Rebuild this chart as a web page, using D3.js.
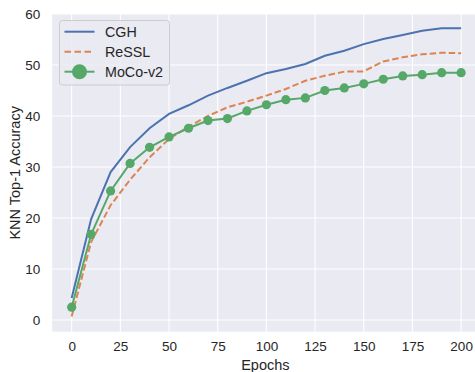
<!DOCTYPE html>
<head>
  <meta charset="utf-8">
  <style>
    body { margin: 0; background: #fff; }
    svg { display: block; }
    svg text { font-family: "Liberation Sans", Arial, sans-serif; fill: #262626; }
    svg .tick text { font-size: 13.5px; }
    svg .grid line { stroke: #fff; stroke-width: 1.1px; }
  </style>
</head>
<body>
<script src="https://d3js.org/d3.v7.min.js"></script>
<script>
  var epochs = [0, 10, 20, 30, 40, 50, 60, 70, 80, 90, 100, 110, 120, 130, 140, 150, 160, 170, 180, 190, 200];
  var cgh   = [4.3, 19.8, 29.0, 33.9, 37.6, 40.4, 42.1, 44.0, 45.5, 46.9, 48.4, 49.2, 50.2, 51.8, 52.8, 54.1, 55.1, 55.9, 56.7, 57.2, 57.2];
  var ressl = [0.7, 15.3, 22.5, 27.5, 31.9, 35.5, 37.9, 40.0, 41.7, 42.8, 44.0, 45.3, 46.9, 47.9, 48.7, 48.75, 50.7, 51.5, 52.1, 52.4, 52.3];
  var moco  = [2.5, 16.8, 25.3, 30.7, 33.85, 35.9, 37.6, 39.1, 39.5, 41.0, 42.2, 43.2, 43.55, 45.0, 45.5, 46.3, 47.2, 47.85, 48.1, 48.5, 48.5];
  var xTicks = [0, 25, 50, 75, 100, 125, 150, 175, 200];
  var yTicks = [0, 10, 20, 30, 40, 50, 60];
  var seriesNames = ["CGH", "ReSSL", "MoCo-v2"];

  var W = 475, H = 372;
  var pLeft = 52.2, pRight = 480.6, pTop = 14, pBottom = 331.7;

  var svg = d3.select("body").append("svg")
      .attr("width", W)
      .attr("height", H);

  var xScale = d3.scaleLinear().domain([-10, 210]).range([pLeft, pRight]);
  var yScale = d3.scaleLinear().domain([-2.3, 60]).range([pBottom, pTop]);

  // plot background
  svg.append("rect")
      .attr("x", pLeft).attr("y", pTop)
      .attr("width", pRight - pLeft).attr("height", pBottom - pTop)
      .attr("fill", "#eaeaf2");

  // grid
  var grid = svg.append("g").classed("grid", true);
  grid.selectAll("line.v").data(xTicks).enter().append("line")
      .attr("x1", d => xScale(d)).attr("x2", d => xScale(d))
      .attr("y1", pTop).attr("y2", pBottom);
  grid.selectAll("line.h").data(yTicks).enter().append("line")
      .attr("y1", d => yScale(d)).attr("y2", d => yScale(d))
      .attr("x1", pLeft).attr("x2", pRight);

  // axes (labels only, darkgrid style has no ticks/spines)
  var xAxis = d3.axisBottom(xScale).tickValues(xTicks).tickSize(0).tickPadding(10);
  svg.append("g")
      .attr("transform", "translate(0," + pBottom + ")")
      .call(xAxis)
      .call(g => g.select(".domain").remove());

  var yAxis = d3.axisLeft(yScale).tickValues(yTicks).tickSize(0).tickPadding(12);
  svg.append("g")
      .attr("transform", "translate(" + pLeft + ",0)")
      .call(yAxis)
      .call(g => g.select(".domain").remove());

  svg.append("text")
      .attr("x", (pLeft + pRight) / 2 - 1)
      .attr("y", 370)
      .attr("text-anchor", "middle")
      .style("font-size", "14.5px")
      .text("Epochs");

  svg.append("text")
      .attr("transform", "translate(20," + ((pTop + pBottom) / 2) + ") rotate(-90)")
      .attr("text-anchor", "middle")
      .style("font-size", "14.5px")
      .text("KNN Top-1 Accuracy");

  var colors = ["#4c72b0", "#dd8452", "#55a868"];
  var line = d3.line()
      .x(d => xScale(d[0]))
      .y(d => yScale(d[1]));

  var plot = svg.append("g");

  plot.append("path")
      .datum(d3.zip(epochs, cgh))
      .attr("d", line)
      .attr("fill", "none")
      .attr("stroke", colors[0])
      .attr("stroke-width", 2);

  plot.append("path")
      .datum(d3.zip(epochs, ressl))
      .attr("d", line)
      .attr("fill", "none")
      .attr("stroke", colors[1])
      .attr("stroke-width", 2)
      .attr("stroke-dasharray", "6.5,3");

  plot.append("path")
      .datum(d3.zip(epochs, moco))
      .attr("d", line)
      .attr("fill", "none")
      .attr("stroke", colors[2])
      .attr("stroke-width", 2);

  plot.selectAll("circle.moco")
    .data(d3.zip(epochs, moco))
    .enter().append("circle")
      .attr("cx", d => xScale(d[0]))
      .attr("cy", d => yScale(d[1]))
      .attr("r", 4.6)
      .attr("fill", colors[2]);

  // legend
  var lg = svg.append("g");
  lg.append("rect")
      .attr("x", 59.5).attr("y", 20.5)
      .attr("width", 110).attr("height", 64.5)
      .attr("rx", 3)
      .attr("fill", "#eaeaf2")
      .attr("fill-opacity", 0.85)
      .attr("stroke", "#cccccc");

  var rowY = [31.7, 51.7, 71.7];
  seriesNames.forEach(function (name, i) {
    var l = lg.append("line")
        .attr("x1", 64.5).attr("x2", 94.5)
        .attr("y1", rowY[i]).attr("y2", rowY[i])
        .attr("stroke", colors[i])
        .attr("stroke-width", 2);
    if (i === 1) l.attr("stroke-dasharray", "6.5,3.5");
    if (i === 2) {
      lg.append("circle")
          .attr("cx", 79.5).attr("cy", rowY[i])
          .attr("r", 7.5)
          .attr("fill", colors[i]);
    }
    lg.append("text")
        .attr("x", 105)
        .attr("y", rowY[i])
        .attr("dy", "0.35em")
        .style("font-size", "14.3px")
        .text(name);
  });
</script>
</body>
</html>
